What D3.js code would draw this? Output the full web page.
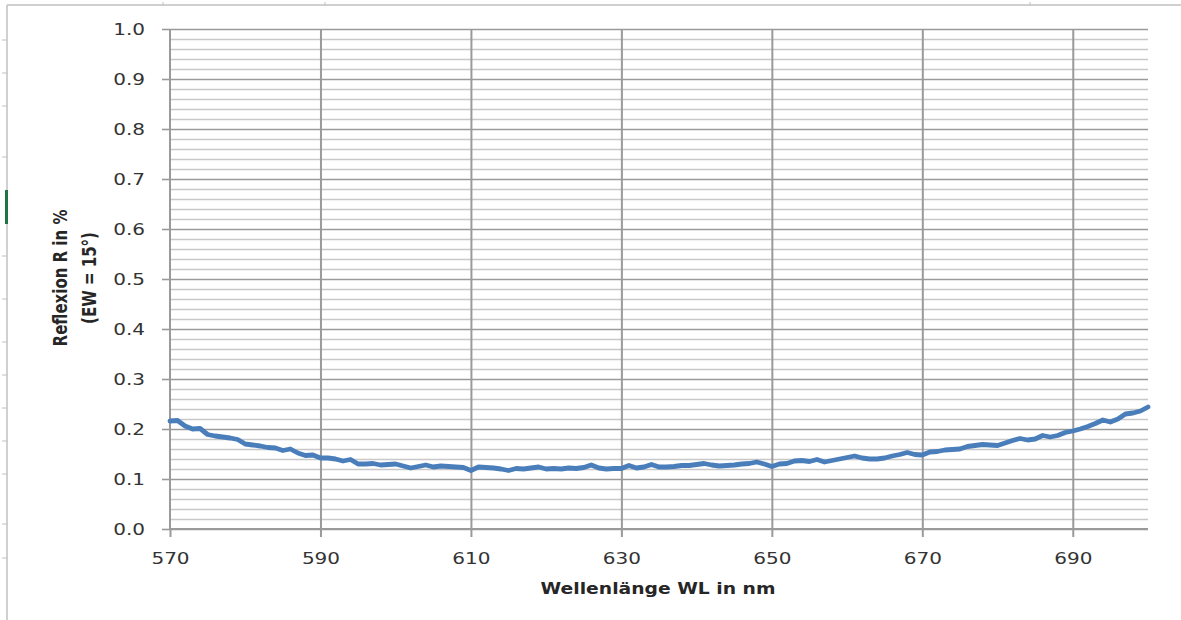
<!DOCTYPE html>
<html>
<head>
<meta charset="utf-8">
<script src="https://cdn.jsdelivr.net/npm/d3@7"></script>
<style>
  html, body { margin: 0; padding: 0; background: #ffffff; }
  svg { display: block; }
</style>
</head>
<body>
<svg id="chart" width="1181" height="620"></svg>
<script>
// ---- data ----
const wavelengths = d3.range(570, 701, 1);
const reflexion = [
  0.216, 0.217, 0.206, 0.200, 0.201, 0.189, 0.186, 0.184, 0.182, 0.179,
  0.170, 0.168, 0.166, 0.163, 0.162, 0.157, 0.160, 0.152, 0.147, 0.148,
  0.142, 0.142, 0.140, 0.136, 0.139, 0.130, 0.130, 0.131, 0.128, 0.129,
  0.130, 0.126, 0.122, 0.125, 0.128, 0.124, 0.126, 0.125, 0.124, 0.123,
  0.117, 0.124, 0.123, 0.122, 0.120, 0.117, 0.121, 0.120, 0.122, 0.124,
  0.120, 0.121, 0.120, 0.122, 0.121, 0.123, 0.128, 0.122, 0.120, 0.121,
  0.121, 0.127, 0.122, 0.124, 0.129, 0.124, 0.124, 0.125, 0.127, 0.127,
  0.129, 0.131, 0.128, 0.126, 0.127, 0.128, 0.130, 0.131, 0.134, 0.130,
  0.125, 0.130, 0.131, 0.136, 0.137, 0.135, 0.139, 0.134, 0.137, 0.140,
  0.143, 0.146, 0.142, 0.140, 0.140, 0.142, 0.146, 0.149, 0.153, 0.149,
  0.148, 0.154, 0.155, 0.158, 0.159, 0.160, 0.165, 0.167, 0.169, 0.168,
  0.167, 0.172, 0.177, 0.181, 0.178, 0.180, 0.187, 0.184, 0.187, 0.193,
  0.196, 0.200, 0.205, 0.211, 0.218, 0.214, 0.220, 0.230, 0.232, 0.236,
  0.244
];
const xTicks = [570, 590, 610, 630, 650, 670, 690];
const yTicks = [0.0, 0.1, 0.2, 0.3, 0.4, 0.5, 0.6, 0.7, 0.8, 0.9, 1.0];
const yMinorTicks = d3.range(0, 51).map(i => i / 50);
const xTitle = "Wellenlänge WL in nm";
const yTitle = ["Reflexion R in %", "(EW = 15°)"];

// ---- layout ----
const svg = d3.select("#chart");
const W = 1181, H = 620;
const plot = { left: 170, right: 1148, top: 29, bottom: 529 };
const sx = 1.25; // horizontal stretch of text as seen in the reference
const textColor = "#333333";

svg.append("rect").attr("width", W).attr("height", H).attr("fill", "#ffffff");

// spreadsheet frame decoration
const frame = svg.append("g").attr("stroke", "#c0c0c0").attr("fill", "none");
frame.append("line").attr("x1", 7).attr("y1", 5).attr("x2", 7).attr("y2", H).attr("stroke-width", 1.5);
frame.append("line").attr("x1", 7).attr("y1", 5).attr("x2", W).attr("y2", 5).attr("stroke-width", 1.5);
[40, 73, 106, 157, 256, 299, 342, 375, 408, 441, 474, 524, 558].forEach(y => {
  frame.append("line").attr("x1", 2).attr("y1", y).attr("x2", 7).attr("y2", y).attr("stroke-width", 1);
});
[163, 325, 1030].forEach(x => {
  frame.append("line").attr("x1", x).attr("y1", 2).attr("x2", x).attr("y2", 6).attr("stroke-width", 1);
});
svg.append("rect").attr("x", 5).attr("y", 190).attr("width", 3).attr("height", 34).attr("fill", "#217346");

const x = d3.scaleLinear().domain([570, 700]).range([plot.left, plot.right]);
const y = d3.scaleLinear().domain([0, 1]).range([plot.bottom, plot.top]);

// minor horizontal gridlines
svg.append("g")
  .attr("transform", `translate(${plot.left},0)`)
  .call(d3.axisLeft(y).tickValues(yMinorTicks.filter(v => Math.round(v * 50) % 5 !== 0))
        .tickSize(-(plot.right - plot.left)).tickFormat(""))
  .call(g => g.select(".domain").remove())
  .call(g => g.selectAll("line").attr("stroke", "#c8c8c8").attr("stroke-width", 1.5));

// major horizontal gridlines
svg.append("g")
  .attr("transform", `translate(${plot.left},0)`)
  .call(d3.axisLeft(y).tickValues(yTicks).tickSize(-(plot.right - plot.left)).tickFormat(""))
  .call(g => g.select(".domain").remove())
  .call(g => g.selectAll("line").attr("stroke", "#9a9a9a").attr("stroke-width", 1.6));

// vertical gridlines
svg.append("g")
  .attr("transform", `translate(0,${plot.bottom})`)
  .call(d3.axisBottom(x).tickValues(xTicks.slice(1)).tickSize(-(plot.bottom - plot.top)).tickFormat(""))
  .call(g => g.select(".domain").remove())
  .call(g => g.selectAll("line").attr("stroke", "#9a9a9a").attr("stroke-width", 2));

// y axis
svg.append("g")
  .attr("transform", `translate(${plot.left},0)`)
  .call(d3.axisLeft(y).tickValues(yTicks).tickSize(8).tickPadding(0).tickFormat(d3.format(".1f")))
  .call(g => g.select(".domain").attr("stroke", "#9a9a9a").attr("stroke-width", 2).attr("d", `M0,${plot.top}V${plot.bottom}`))
  .call(g => g.selectAll(".tick line").attr("stroke", "#9a9a9a").attr("stroke-width", 1.6))
  .call(g => g.selectAll(".tick text")
    .attr("x", -25 / sx).attr("dy", "0.36em")
    .attr("transform", `scale(${sx},1)`)
    .attr("fill", textColor)
    .style("font-family", "'DejaVu Sans', sans-serif")
    .style("font-size", "16px"));

// x axis
svg.append("g")
  .attr("transform", `translate(0,${plot.bottom})`)
  .call(d3.axisBottom(x).tickValues(xTicks).tickSize(8).tickFormat(d3.format("d")))
  .call(g => g.select(".domain").attr("stroke", "#9a9a9a").attr("stroke-width", 2).attr("d", `M${plot.left},0H${plot.right}`))
  .call(g => g.selectAll(".tick line").attr("stroke", "#9a9a9a").attr("stroke-width", 2))
  .call(g => g.selectAll(".tick text")
    .attr("y", 35).attr("dy", "0")
    .attr("transform", `scale(${sx},1)`)
    .attr("fill", textColor)
    .style("font-family", "'DejaVu Sans', sans-serif")
    .style("font-size", "16px"));

// data line
const data = wavelengths.map((w, i) => ({ w, r: reflexion[i] }));
svg.append("path")
  .datum(data)
  .attr("fill", "none")
  .attr("stroke", "#4a7ebb")
  .attr("stroke-width", 4.8)
  .attr("stroke-linejoin", "round")
  .attr("stroke-linecap", "round")
  .attr("d", d3.line().x(d => x(d.w)).y(d => y(d.r)));

// x title
svg.append("g")
  .attr("transform", `translate(658,594) scale(${sx},1)`)
  .append("text")
  .attr("text-anchor", "middle")
  .attr("fill", "#262626")
  .style("font-family", "'DejaVu Sans', sans-serif")
  .style("font-size", "15px")
  .style("font-weight", "bold")
  .text(xTitle);

// y title (two lines)
const yt = svg.append("g").attr("transform", `translate(0,278)`);
yTitle.forEach((t, i) => {
  yt.append("g")
    .attr("transform", `translate(${[67, 96][i]},0) scale(${sx},1) rotate(-90)`)
    .append("text")
    .attr("text-anchor", "middle")
    .attr("fill", "#262626")
    .style("font-family", "'DejaVu Sans', sans-serif")
    .style("font-size", "15px")
    .style("font-weight", "bold")
    .text(t);
});
</script>
</body>
</html>
